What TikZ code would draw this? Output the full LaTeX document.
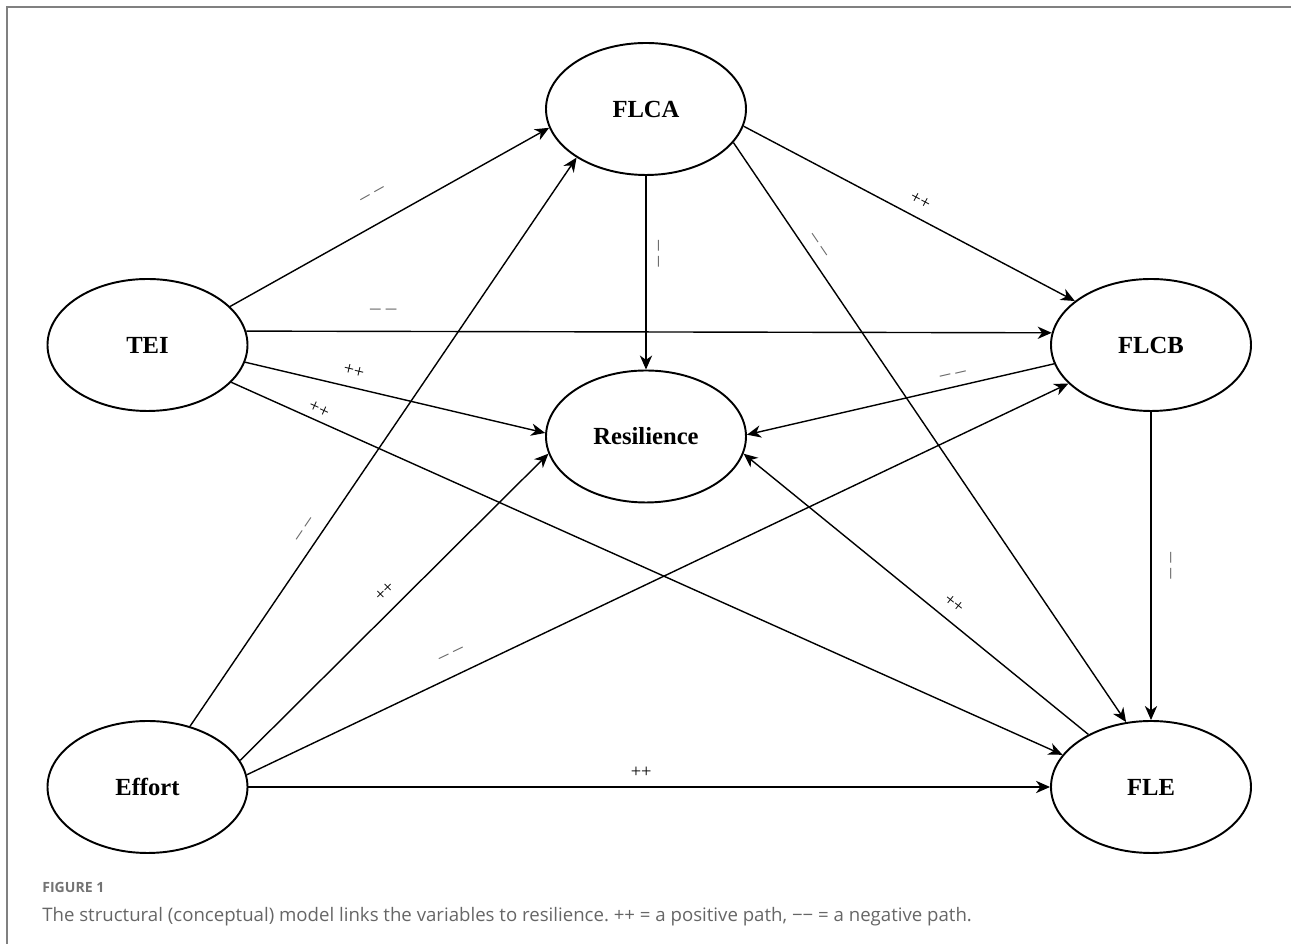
\documentclass[tikz,border=0pt]{standalone}
\usepackage{fontspec}
\setmainfont{Liberation Serif}
\newfontfamily\capfont{Open Sans}
\usepackage{tikz}
\usetikzlibrary{arrows.meta, shapes.geometric}
\frenchspacing

\begin{document}
\begin{tikzpicture}[
    latent/.style={draw, ellipse, line width=1.1pt, minimum width=4.0cm,
                   minimum height=2.64cm, inner sep=0pt, font=\fontsize{14}{16}\selectfont\bfseries},
    link/.style={line width=0.8pt, -{Stealth[length=8pt, width=7pt, inset=2.5pt]}},
    poslbl/.style={sloped, above=#1, inner sep=0pt, font=\fontsize{10.5}{12}\selectfont},
    neglbl/.style={sloped, above=#1, inner sep=0pt, text=black!60, font=\fontsize{12}{14}\selectfont},
    pageline/.style={draw=black!50, line width=0.7pt},
    caphead/.style={anchor=base west, inner sep=0pt, text=black!55, font=\capfont\fontsize{8}{10}\selectfont\bfseries},
    captext/.style={anchor=base west, inner sep=0pt, text=black!60, font=\capfont\fontsize{10.6}{12}\selectfont},
]
\useasboundingbox (0,0) rectangle (25.82,18.88);
\draw[pageline] (0.14,0) |- (25.82,18.74);

% === Latent variables ===
\node[latent] (flca)   at (12.92, 16.70) {FLCA};
\node[latent] (tei)    at (2.95, 11.98)  {TEI};
\node[latent] (flcb)   at (23.02, 11.98) {FLCB};
\node[latent] (res)    at (12.92, 10.15) {Resilience};
\node[latent] (effort) at (2.95, 3.14)   {Effort};
\node[latent] (fle)    at (23.02, 3.14)  {FLE};

% === Paths from TEI ===
\draw[link] (tei.25) -- (flca.191) node[neglbl=13.5pt, pos=0.49] (l1) {\textendash\ \textendash};
\draw[link] (tei.8) -- (flcb.173) node[neglbl=9pt, pos=0.17] (l2) {\textendash\ \textendash};
\draw[link] (tei.-10) -- (res.178) node[poslbl=6pt, pos=0.35] (l3) {++};
\draw[link] (tei.-24) -- (fle.160) node[poslbl=3pt, pos=0.10] (l4) {++};

% === Paths from Effort ===
\draw[link] (effort.55) -- (flca.215) node[neglbl=6.4pt, pos=0.33] (l5) {\textendash\ \textendash};
\draw[link] (effort.16) -- (res.190) node[poslbl=6.8pt, pos=0.51] (l6) {++};
\draw[link] (effort.7) -- (flcb.205) node[neglbl=9.4pt, pos=0.26] (l7) {\textendash\ \textendash};
\draw[link] (effort) -- (fle) node[poslbl=5pt, pos=0.49] (l8) {++};

% === Paths from FLCA ===
\draw[link] (flca) -- (res) node[neglbl=4pt, pos=0.40] (l9) {\textendash\ \textendash};
\draw[link] (flca.-10) -- (flcb.150) node[poslbl=6.2pt, pos=0.51] (l10) {++};
\draw[link] (flca.-21) -- (fle.111) node[neglbl=4.7pt, pos=0.19] (l11) {\textendash\ \textendash};

% === Paths from FLCB and FLE ===
\draw[link] (flcb.191) -- (res.1) node[neglbl=4.1pt, pos=0.32] (l12) {\textendash\ \textendash};
\draw[link] (flcb) -- (fle) node[neglbl=8pt, pos=0.50] (l13) {\textendash\ \textendash};
\draw[link] (fle.140) -- (res.-10) node[poslbl=6pt, pos=0.42] (l14) {++};

% === Caption ===
\node[caphead] (fighead) at (0.84, 1.02) {FIGURE 1};
\node[captext] (figtext) at (0.84, 0.44) {The structural (conceptual) model links the variables to resilience. ++ = a positive path, −− = a negative path.};

\end{tikzpicture}
\end{document}
